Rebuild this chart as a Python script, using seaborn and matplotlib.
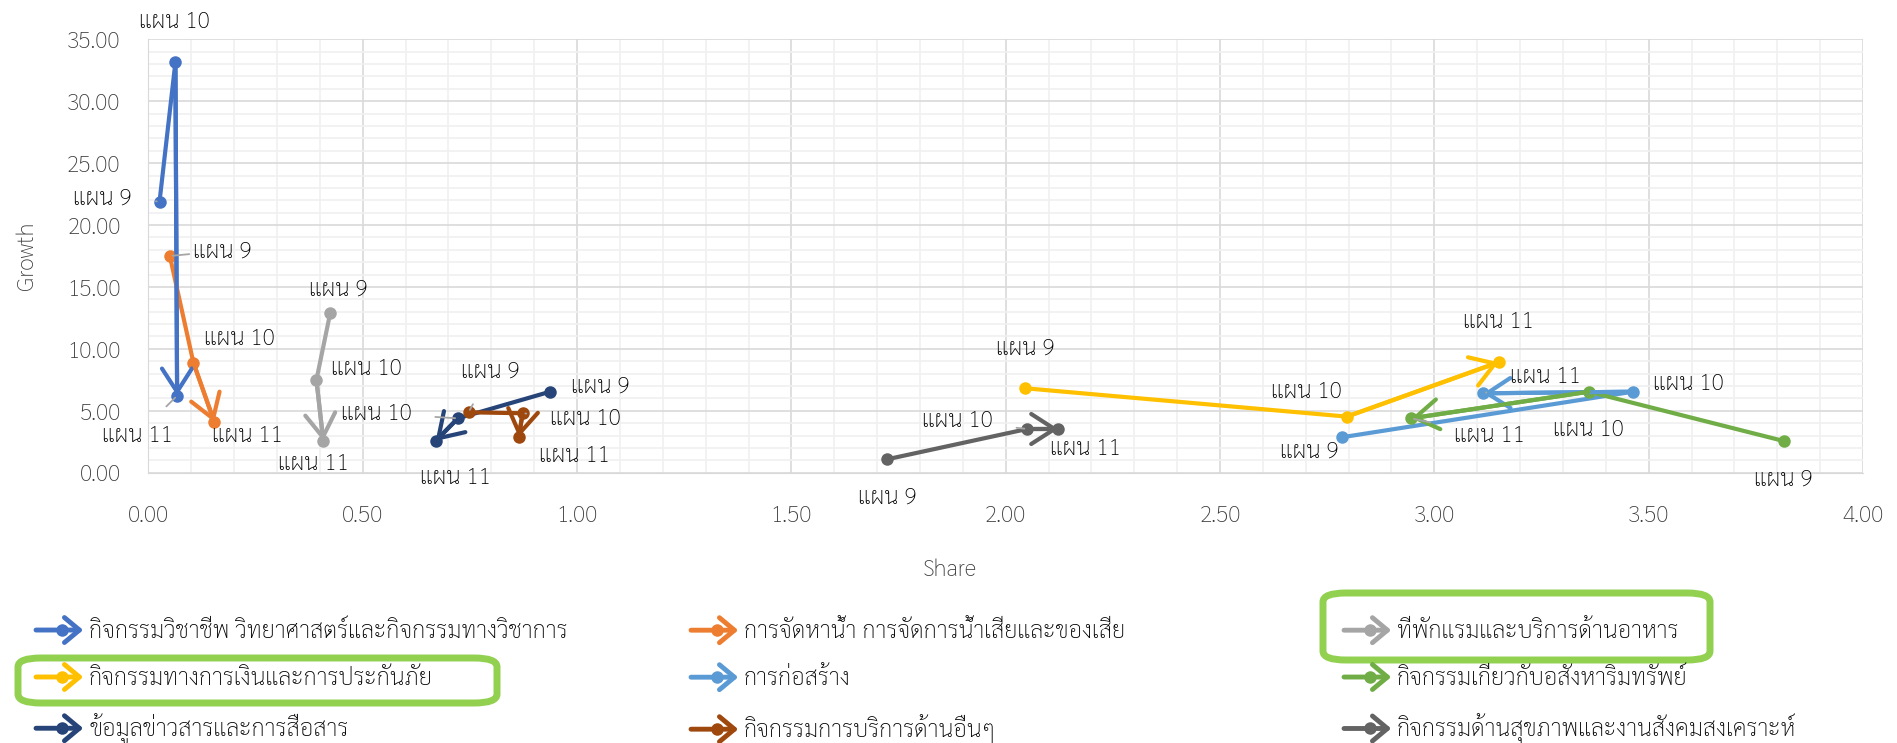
import numpy as np
import pandas as pd
import matplotlib
matplotlib.use("Agg")
import matplotlib.pyplot as plt
from matplotlib import font_manager as fm
from matplotlib.legend_handler import HandlerBase
from matplotlib.patches import FancyArrowPatch, FancyBboxPatch
from matplotlib.lines import Line2D
from matplotlib.ticker import MultipleLocator, FormatStrFormatter
import seaborn as sns

# ---- data ----
sectors = ["กิจกรรมวิชาชีพ วิทยาศาสตร์และกิจกรรมทางวิชาการ",
           "การจัดหาน้ำ การจัดการน้ำเสียและของเสีย",
           "ที่พักแรมและบริการด้านอาหาร",
           "กิจกรรมทางการเงินและการประกันภัย",
           "การก่อสร้าง",
           "กิจกรรมเกี่ยวกับอสังหาริมทรัพย์",
           "ข้อมูลข่าวสารและการสื่อสาร",
           "กิจกรรมการบริการด้านอื่นๆ",
           "กิจกรรมด้านสุขภาพและงานสังคมสงเคราะห์"]
plans = ["แผน 9", "แผน 10", "แผน 11"]
share = [[0.026, 0.063, 0.067],
         [0.050, 0.105, 0.154],
         [0.424, 0.392, 0.408],
         [2.045, 2.796, 3.150],
         [2.784, 3.463, 3.114],
         [3.815, 3.360, 2.946],
         [0.937, 0.722, 0.670],
         [0.747, 0.873, 0.864],
         [1.723, 2.050, 2.123]]
growth = [[21.9, 33.15, 6.22],
          [17.5, 8.89, 4.07],
          [12.87, 7.49, 2.56],
          [6.82, 4.53, 8.92],
          [2.86, 6.54, 6.41],
          [2.56, 6.54, 4.39],
          [6.54, 4.39, 2.56],
          [4.88, 4.80, 2.86],
          [1.08, 3.53, 3.53]]
colors = ["#4472C4", "#ED7D31", "#A5A5A5", "#FFC000", "#5B9BD5",
          "#70AD47", "#264478", "#9E480E", "#636363"]

# label offsets in pixels (dx, dy up) and whether a leader line is drawn
lab_off = [[(-57, 3, 1), (-1, 40, 0), (-40, -40, 1)],
           [(52, 5, 1), (46, 24, 0), (33, -13, 0)],
           [(8, 24, 0), (50, 11, 0), (-10, -23, 0)],
           [(0, 40, 0), (-41, 25, 0), (0, 40, 0)],
           [(-32, -14, 0), (56, 8, 0), (62, 17, 1)],
           [(0, -38, 0), (0, -38, 0), (78, -17, 1)],
           [(50, 5, 0), (-82, 5, 1), (20, -37, 0)],
           [(22, 41, 1), (63, -5, 1), (56, -18, 0)],
           [(0, -38, 0), (-70, 8, 1), (27, -20, 0)]]

rows = []
for i, s in enumerate(sectors):
    for j, p in enumerate(plans):
        rows.append({"sector": s, "plan": p, "Share": share[i][j], "Growth": growth[i][j]})
df = pd.DataFrame(rows)


def pick_font(cands):
    for c in cands:
        try:
            fm.findfont(fm.FontProperties(family=c), fallback_to_default=False)
            return c
        except Exception:
            pass
    return "DejaVu Sans"


sns.set_style("white")
thai = pick_font(["Sarabun", "Noto Sans Thai", "Noto Sans Thai Looped", "Anuphan", "Bai Jamjuree"])
plt.rcParams["font.family"] = [thai, "DejaVu Sans"]
txt_w = "light"

W, H = 1897, 743
fig = plt.figure(figsize=(W / 100, H / 100), dpi=100)
ax = fig.add_axes([148.4 / W, 1 - 472.7 / H, (1863 - 148.4) / W, (472.7 - 39.3) / H])

sns.lineplot(data=df, x="Share", y="Growth", hue="sector", palette=colors, sort=False,
             estimator=None, marker="o", markersize=9, markeredgewidth=0, linewidth=3,
             legend=False, ax=ax)

# open arrow heads on the last segment
for i in range(len(sectors)):
    ax.annotate("", xy=(share[i][2], growth[i][2]), xytext=(share[i][1], growth[i][1]),
                arrowprops=dict(arrowstyle="->,head_length=0.7,head_width=0.45", color=colors[i],
                                lw=3, shrinkA=0, shrinkB=0, mutation_scale=24))

# point labels
for i in range(len(sectors)):
    for j in range(3):
        dx, dy, lead = lab_off[i][j]
        ap = None
        if lead:
            ap = dict(arrowstyle="-", color="#A6A6A6", lw=1.3, shrinkA=15, shrinkB=2)
        ax.annotate(plans[j], xy=(share[i][j], growth[i][j]), xytext=(dx, dy),
                    textcoords="offset pixels", ha="center", va="center",
                    fontsize=16.5, color="#000000", fontweight=txt_w, arrowprops=ap)

ax.set_xlim(0, 4)
ax.set_ylim(0, 35)
ax.xaxis.set_major_locator(MultipleLocator(0.5))
ax.xaxis.set_minor_locator(MultipleLocator(0.1))
ax.yaxis.set_major_locator(MultipleLocator(5))
ax.yaxis.set_minor_locator(MultipleLocator(1))
ax.xaxis.set_major_formatter(FormatStrFormatter("%.2f"))
ax.yaxis.set_major_formatter(FormatStrFormatter("%.2f"))
ax.grid(which="major", color="#D9D9D9", lw=1.2)
ax.grid(which="minor", color="#F0F0F0", lw=1.2)
ax.set_axisbelow(True)
for sp in ax.spines.values():
    sp.set_visible(False)
ax.spines["left"].set_visible(True)
ax.spines["bottom"].set_visible(True)
ax.spines["left"].set_color("#D9D9D9")
ax.spines["bottom"].set_color("#D9D9D9")
ax.tick_params(which="major", length=7, color="#D9D9D9", labelsize=16.5, labelcolor="#3A3A3A")
ax.tick_params(axis="y", pad=13)
ax.tick_params(axis="x", pad=16)
ax.tick_params(which="minor", length=0)
for t in ax.get_xticklabels() + ax.get_yticklabels():
    t.set_fontweight(txt_w)
ax.set_xlabel("Share", fontsize=16.5, color="#3A3A3A", fontweight=txt_w)
ax.set_ylabel("Growth", fontsize=16.5, color="#3A3A3A", fontweight=txt_w)
ax.xaxis.set_label_coords((950 - 148.4) / 1714.6, (472.7 - 559) / 433.4)
ax.yaxis.set_label_coords((38 - 148.4) / 1714.6, 0.5)


class ArrowHandler(HandlerBase):
    def create_artists(self, legend, orig, xd, yd, w, h, fontsize, trans):
        c = orig.get_color()
        y = h / 2 - yd
        arr = FancyArrowPatch((-xd, y), (-xd + w, y), arrowstyle="->,head_length=0.6,head_width=0.5",
                              color=c, lw=3.5, mutation_scale=18, shrinkA=0, shrinkB=0, transform=trans)
        dot = Line2D([-xd + w * 0.55], [y], marker="o", color=c, ms=9, mew=0, transform=trans)
        return [arr, dot]


col_x = [36, 691, 1344]
row_y = [632, 679, 729]
for k in range(9):
    r, c = k // 3, k % 3
    h = Line2D([], [], color=colors[k])
    lg = fig.legend([h], [sectors[k]], loc="center left",
                    bbox_to_anchor=(col_x[c] / W, 1 - row_y[r] / H), frameon=False,
                    prop={"size": 17, "weight": txt_w},
                    handler_map={Line2D: ArrowHandler()}, handlelength=2.0, handletextpad=0.25,
                    borderaxespad=0, borderpad=0)
    for t in lg.get_texts():
        t.set_color("#000000")

# green highlight boxes
for (x0, y0, x1, y1) in [(18, 658, 497, 703), (1323, 593, 1710, 660)]:
    fig.patches.append(FancyBboxPatch((x0 / W, 1 - y1 / H), (x1 - x0) / W, (y1 - y0) / H,
                                      boxstyle="round,pad=0,rounding_size=0.012", fill=False,
                                      ec="#92D050", lw=5, transform=fig.transFigure, figure=fig))

fig.savefig("out.png", dpi=100)
